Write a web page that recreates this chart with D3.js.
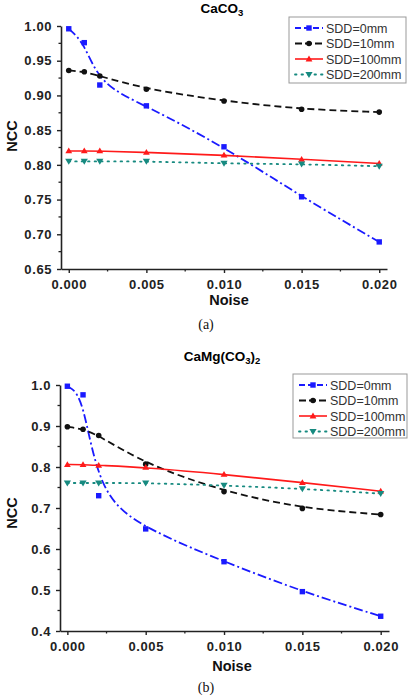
<!DOCTYPE html>
<html><head><meta charset="utf-8">
<script src="https://cdn.jsdelivr.net/npm/d3@7"></script>
<style>html,body{margin:0;padding:0;background:#fff;}svg{display:block;}</style>
</head><body>
<svg id="c" width="412" height="696"></svg>
<script>
const noise = [0, 0.001, 0.002, 0.005, 0.010, 0.015, 0.020];
const seriesNames = ["SDD=0mm", "SDD=10mm", "SDD=100mm", "SDD=200mm"];

// (a) CaCO3
const caco3_sdd0   = [0.996, 0.976, 0.915, 0.885, 0.826, 0.754, 0.689];
const caco3_sdd10  = [0.936, 0.934, 0.928, 0.909, 0.892, 0.880, 0.876];
const caco3_sdd100 = [0.820, 0.820, 0.820, 0.818, 0.814, 0.808, 0.802];
const caco3_sdd200 = [0.805, 0.805, 0.805, 0.805, 0.802, 0.801, 0.798];
const caco3_yTicks = [0.65, 0.70, 0.75, 0.80, 0.85, 0.90, 0.95, 1.00];

// (b) CaMg(CO3)2
const camg_sdd0   = [0.997, 0.976, 0.730, 0.649, 0.569, 0.496, 0.436];
const camg_sdd10  = [0.898, 0.892, 0.877, 0.807, 0.740, 0.699, 0.684];
const camg_sdd100 = [0.806, 0.806, 0.804, 0.799, 0.782, 0.762, 0.741];
const camg_sdd200 = [0.761, 0.761, 0.761, 0.761, 0.755, 0.747, 0.735];
const camg_yTicks = [0.4, 0.5, 0.6, 0.7, 0.8, 0.9, 1.0];

const xTicks = [0, 0.005, 0.010, 0.015, 0.020];

const styles = [
  {color:"#1a1aff", dash:"9,3,2,3", marker:"square", width:1.8},
  {color:"#111", dash:"7,4", marker:"circle", width:1.8},
  {color:"#ff1a1a", dash:null, marker:"triangle", width:1.6},
  {color:"#178a80", dash:"1.5,5", marker:"triangleDown", width:1.8}
];

const svg = d3.select("#c");

function drawMarker(g, type, x, y, color){
  if(type==="square") g.append("rect").attr("x",x-2.7).attr("y",y-2.7).attr("width",5.4).attr("height",5.4).attr("fill",color);
  else if(type==="circle") g.append("circle").attr("cx",x).attr("cy",y).attr("r",2.8).attr("fill",color);
  else if(type==="triangle") g.append("path").attr("d",`M${x},${y-3.4}L${x+3.4},${y+2.4}L${x-3.4},${y+2.4}Z`).attr("fill",color);
  else g.append("path").attr("d",`M${x},${y+3.4}L${x+3.6},${y-2.6}L${x-3.6},${y-2.6}Z`).attr("fill",color);
}

function chart(cfg){
  const g = svg.append("g");
  const x = d3.scaleLinear().domain(cfg.xDomain).range([cfg.left, cfg.right]);
  const y = d3.scaleLinear().domain(cfg.yDomain).range([cfg.bottom, cfg.top]);

  // title
  const t = g.append("text").attr("x",cfg.titleX).attr("y",cfg.titleY).attr("text-anchor","middle")
    .attr("font-family","Liberation Sans, Arial, sans-serif").attr("font-weight","bold").attr("font-size",13.5);
  cfg.title.forEach(p=>{
    const s = t.append("tspan").text(p[0]);
    if(p[1]) s.attr("font-size",9.5).attr("dy",3); else if(p[2]) s.attr("dy",-3);
  });

  // axes
  const xAxis = d3.axisBottom(x).tickValues(xTicks).tickSize(4).tickSizeOuter(0).tickFormat(d3.format(".3f"));
  const gx = g.append("g").attr("transform",`translate(0,${cfg.bottom})`).call(xAxis);
  const xMinor = d3.range(0.0025, 0.02, 0.005);
  gx.selectAll(".minor").data(xMinor).enter().append("line").attr("x1",d=>x(d)).attr("x2",d=>x(d)).attr("y1",0).attr("y2",2.5).attr("stroke","#222").attr("stroke-width",1.3);
  const yAxis = d3.axisLeft(y).tickValues(cfg.yTicks).tickSize(4).tickSizeOuter(0).tickFormat(d3.format(cfg.yFmt));
  const gy = g.append("g").attr("transform",`translate(${cfg.left},0)`).call(yAxis);
  const step = cfg.yTicks[1]-cfg.yTicks[0];
  const yMinor = cfg.yTicks.slice(0,-1).map(v=>v+step/2);
  gy.selectAll(".minor").data(yMinor).enter().append("line").attr("y1",d=>y(d)).attr("y2",d=>y(d)).attr("x1",0).attr("x2",-2.5).attr("stroke","#222").attr("stroke-width",1.3);
  [gx,gy].forEach(a=>{
    a.select(".domain").attr("stroke","#222").attr("stroke-width",1.6);
    a.selectAll(".tick line").attr("stroke","#222").attr("stroke-width",1.4);
    a.selectAll(".tick text").attr("font-family","Liberation Sans, Arial, sans-serif").attr("font-weight","bold")
      .attr("font-size",13).attr("fill","#222").attr("letter-spacing",0.6);
  });
  gx.selectAll(".tick text").attr("dy","1.0em");
  gy.selectAll(".tick text").attr("dx","-0.15em");

  // axis labels
  g.append("text").attr("x",cfg.xLabelX).attr("y",cfg.xLabelY).attr("text-anchor","middle")
    .attr("font-family","Liberation Sans, Arial, sans-serif").attr("font-weight","bold").attr("font-size",14.5).attr("fill","#111").text("Noise");
  g.append("text").attr("transform",`translate(17,${cfg.yLabelY}) rotate(-90)`).attr("text-anchor","middle")
    .attr("font-family","Liberation Sans, Arial, sans-serif").attr("font-weight","bold").attr("font-size",14.5).attr("fill","#111").text("NCC");

  // series
  const line = d3.line().x((d,i)=>x(noise[i])).y(d=>y(d)).curve(d3.curveBasis);
  cfg.series.forEach((vals,si)=>{
    const st = styles[si];
    g.append("path").attr("d",line(vals)).attr("fill","none").attr("stroke",st.color).attr("stroke-width",st.width)
      .attr("stroke-dasharray",st.dash).attr("stroke-linecap",si===3?"round":"butt");
    vals.forEach((v,i)=>drawMarker(g, st.marker, x(noise[i]), y(v), st.color));
  });

  // legend
  const L = cfg.legend;
  g.append("rect").attr("x",L.x).attr("y",L.y).attr("width",L.w).attr("height",L.h).attr("fill","#fff").attr("stroke","#999").attr("stroke-width",1);
  seriesNames.forEach((n,i)=>{
    const st = styles[i];
    const yy = L.y + 11 + i*15.5;
    g.append("line").attr("x1",L.x+6).attr("x2",L.x+34).attr("y1",yy).attr("y2",yy).attr("stroke",st.color).attr("stroke-width",st.width)
      .attr("stroke-dasharray",i===0?"6,3":i===1?"7,3":i===3?"1.5,5":null).attr("stroke-linecap",i===3?"round":"butt");
    drawMarker(g, st.marker, L.x+20, yy, st.color);
    g.append("text").attr("x",L.x+37).attr("y",yy+4.5).attr("font-family","Liberation Sans, Arial, sans-serif")
      .attr("font-size",12.5).attr("fill","#333").text(n);
  });

  // caption
  g.append("text").attr("x",206).attr("y",cfg.capY).attr("text-anchor","middle").attr("font-family","Liberation Serif, Times New Roman, serif")
    .attr("font-size",14).attr("fill","#111").text(cfg.caption);
}

chart({
  title:[["CaCO"],["3",true]], titleX:222, titleY:13,
  left:61, right:387, top:26, bottom:269,
  xDomain:[-0.0005,0.0205], yDomain:[0.65,1.0], yTicks:caco3_yTicks, yFmt:".2f",
  series:[caco3_sdd0, caco3_sdd10, caco3_sdd100, caco3_sdd200],
  xLabelX:229, xLabelY:305, yLabelY:136,
  legend:{x:289, y:17, w:117, h:66},
  caption:"(a)", capY:329
});
chart({
  title:[["CaMg(CO"],["3",true],[")",false,true],["2",true]], titleX:222, titleY:361,
  left:60, right:389, top:385, bottom:631,
  xDomain:[-0.00047,0.02053], yDomain:[0.4,1.0], yTicks:camg_yTicks, yFmt:".1f",
  series:[camg_sdd0, camg_sdd10, camg_sdd100, camg_sdd200],
  xLabelX:232, xLabelY:671, yLabelY:513,
  legend:{x:293, y:374, w:114, h:64},
  caption:"(b)", capY:692
});
</script>
</body></html>
